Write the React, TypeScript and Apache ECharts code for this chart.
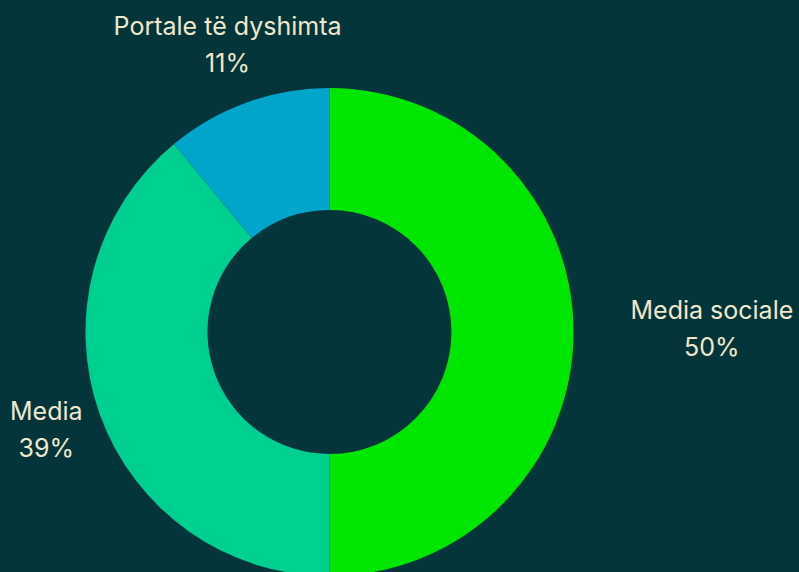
import React, { useEffect, useRef } from "react";
import * as echarts from "echarts";

const categories = ["Media sociale", "Media", "Portale të dyshimta"];
const values = [50, 39, 11];
const colors = ["#00e600", "#00d08f", "#00a6c9"];

const W = 799;
const H = 572;
const CX = 329.5;
const CY = 332;
const R_IN = 122;
const R_OUT = 244;
const LABEL_R = 301;
const LABEL_DY = -4;

export default function App() {
  const ref = useRef<HTMLDivElement>(null);
  useEffect(() => {
    document.body.style.margin = "0";
    const chart = echarts.init(ref.current!, null, { renderer: "svg" });
    const total = values.reduce((a, b) => a + b, 0);
    const mids: number[] = [];
    let acc = 0;
    values.forEach((v) => {
      const start = 90 - (acc / total) * 360;
      acc += v;
      const end = 90 - (acc / total) * 360;
      mids.push((start + end) / 2);
    });
    chart.setOption({
      animation: false,
      backgroundColor: "#04353b",
      series: [
        {
          type: "pie",
          center: [CX, CY],
          radius: [R_IN, R_OUT],
          startAngle: 90,
          clockwise: true,
          silent: true,
          data: categories.map((name, i) => ({
            name,
            value: values[i],
            itemStyle: { color: colors[i] },
          })),
          label: {
            show: true,
            position: "inside",
            overflow: "none",
            formatter: "{b}\n{d}%",
            color: "#efe8cc",
            fontSize: 25,
            lineHeight: 37,
            fontFamily: "Inter",
          },
          labelLine: { show: false },
          labelLayout: (p: any) => {
            const a = (mids[p.dataIndex] * Math.PI) / 180;
            const c = Math.cos(a);
            const s = Math.sin(a);
            let x = CX + LABEL_R * c;
            const y = CY - LABEL_R * s;
            const w = p.labelRect.width;
            const h = p.labelRect.height;
            const nx = Math.max(Math.abs(x - CX) - w / 2, 0);
            const ny = Math.max(Math.abs(y - CY) - h / 2, 0);
            if (Math.hypot(nx, ny) < R_OUT) {
              const sign = c >= 0 ? 1 : -1;
              x = CX + sign * (LABEL_R * Math.abs(c) + w / 2);
            }
            return { x, y: y + LABEL_DY, align: "center", verticalAlign: "middle" };
          },
        },
      ],
    });
    return () => chart.dispose();
  }, []);
  return <div ref={ref} style={{ width: W, height: H }} />;
}
